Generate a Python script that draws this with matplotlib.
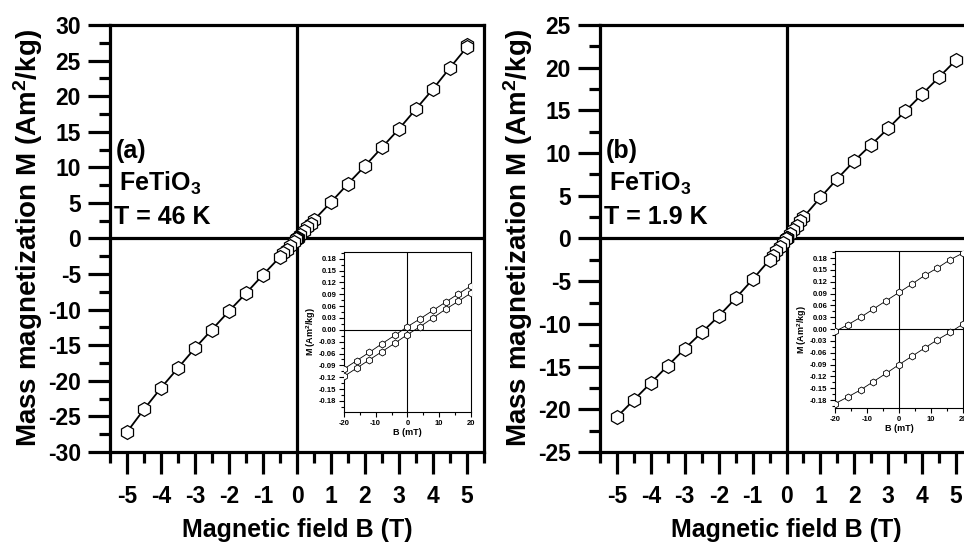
import numpy as np
import matplotlib
matplotlib.use('Agg')
import matplotlib.pyplot as plt
from matplotlib.ticker import MultipleLocator, FormatStrFormatter

# Magnetization loops of FeTiO3 at two temperatures
# field sweep in tesla, magnetization in Am^2/kg
Ba = [5, 5, 4.5, 4, 3.5, 3, 2.5, 2, 1.5, 1, 0.5, 0.4, 0.3, 0.2, 0.1, 0.02, 0.01, 0,
      -0.01, -0.02, -0.1, -0.2, -0.3, -0.4, -0.5, -1, -1.5, -2, -2.5, -3, -3.5, -4, -4.5, -5]
Ma = [27.2, 26.9, 24.0, 21.0, 18.2, 15.4, 12.8, 10.2, 7.7, 5.1, 2.6, 2.1, 1.6, 1.1, 0.55, 0.1, 0.05, 0.0,
      -0.05, -0.1, -0.55, -1.1, -1.6, -2.1, -2.6, -5.1, -7.7, -10.2, -12.8, -15.4, -18.2, -21.0, -24.0, -27.2]

Bb = [5, 4.5, 4, 3.5, 3, 2.5, 2, 1.5, 1, 0.5, 0.4, 0.3, 0.2, 0.1, 0.02, 0.01, 0,
      -0.01, -0.02, -0.1, -0.2, -0.3, -0.4, -0.5, -1, -1.5, -2, -2.5, -3, -3.5, -4, -4.5, -5]
Mb = [20.9, 18.9, 16.9, 14.9, 12.9, 11.0, 9.1, 7.0, 4.8, 2.5, 2.0, 1.5, 1.0, 0.5, 0.09, 0.05, 0.0,
      -0.05, -0.09, -0.5, -1.0, -1.5, -2.0, -2.5, -4.8, -7.0, -9.1, -11.0, -12.9, -14.9, -16.9, -18.9, -20.9]

# low field detail, field in mT
Bi = [-20, -16, -12, -8, -4, 0, 4, 8, 12, 16, 20]
Ia_up = [-0.099, -0.078, -0.057, -0.035, -0.014, 0.008, 0.028, 0.049, 0.070, 0.091, 0.111]
Ia_dn = [-0.118, -0.097, -0.076, -0.055, -0.034, -0.012, 0.008, 0.030, 0.052, 0.072, 0.093]
Ib_up = [-0.006, 0.011, 0.030, 0.051, 0.072, 0.093, 0.114, 0.136, 0.155, 0.176, 0.193]
Ib_dn = [-0.189, -0.172, -0.154, -0.133, -0.112, -0.090, -0.069, -0.048, -0.027, -0.008, 0.013]

plt.rcParams['font.family'] = 'Liberation Sans'
plt.rcParams['font.weight'] = 'bold'
plt.rcParams['axes.labelweight'] = 'bold'
plt.rcParams['axes.unicode_minus'] = False
plt.rcParams['mathtext.default'] = 'regular'

fig = plt.figure(figsize=(9.64, 5.43), dpi=100)


def main_panel(pos, B, M, ylim, tag, temp):
    ax = fig.add_axes(pos)
    ax.axhline(0, color='k', lw=2.3, zorder=1)
    ax.axvline(0, color='k', lw=2.3, zorder=1)
    ax.plot(B, M, '-h', color='k', lw=1.3, ms=10, mfc='white', mec='k', mew=0.9, zorder=3)
    ax.set_xlim(-5.5, 5.5)
    ax.set_ylim(-ylim, ylim)
    ax.xaxis.set_major_locator(MultipleLocator(1))
    ax.xaxis.set_minor_locator(MultipleLocator(0.5))
    ax.yaxis.set_major_locator(MultipleLocator(5))
    ax.yaxis.set_minor_locator(MultipleLocator(2.5))
    ax.tick_params(which='major', direction='out', length=16, width=2.3, labelsize=16.5, pad=5)
    ax.tick_params(axis='x', which='major', pad=8)
    ax.tick_params(which='minor', direction='out', length=8, width=2.3)
    for s in ax.spines.values():
        s.set_linewidth(2.3)
    ax.set_xlabel('Magnetic field B (T)', fontsize=18, labelpad=7)
    ax.set_ylabel('Mass magnetization M (Am$^2$/kg)', fontsize=20, labelpad=2)
    ax.text(0.015, 0.688, tag, transform=ax.transAxes, fontsize=18)
    ax.text(0.025, 0.612, 'FeTiO$_3$', transform=ax.transAxes, fontsize=18)
    ax.text(0.012, 0.534, temp, transform=ax.transAxes, fontsize=18)
    return ax


def inset(pos, up, dn, ylim):
    ax = fig.add_axes(pos)
    ax.axhline(0, color='k', lw=0.8, zorder=1)
    ax.axvline(0, color='k', lw=0.8, zorder=1)
    for M in (up, dn):
        ax.plot(Bi, M, '-h', color='k', lw=0.6, ms=5, mfc='white', mec='k', mew=0.6, zorder=3)
    ax.set_xlim(-20, 20)
    ax.set_ylim(*ylim)
    ax.xaxis.set_major_locator(MultipleLocator(10))
    ax.xaxis.set_minor_locator(MultipleLocator(5))
    ax.yaxis.set_major_locator(MultipleLocator(0.03))
    ax.yaxis.set_minor_locator(MultipleLocator(0.015))
    ax.yaxis.set_major_formatter(FormatStrFormatter('%.2f'))
    ax.tick_params(which='major', direction='out', length=3.5, width=0.8, labelsize=5.5, pad=2)
    ax.tick_params(which='minor', direction='out', length=2, width=0.8)
    for s in ax.spines.values():
        s.set_linewidth(0.8)
    ax.set_xlabel('B (mT)', fontsize=6.5, labelpad=1)
    ax.set_ylabel('M (Am$^2$/kg)', fontsize=6.5, labelpad=1)
    return ax


main_panel([0.1141, 0.1676, 0.388, 0.7864], Ba, Ma, 30, '(a)', 'T = 46 K')
main_panel([0.6224, 0.1676, 0.387, 0.7864], Bb, Mb, 25, '(b)', 'T = 1.9 K')

inset([0.3568, 0.2413, 0.1317, 0.2946], Ia_up, Ia_dn, (-0.208, 0.197))
inset([0.8662, 0.2486, 0.1328, 0.2892], Ib_up, Ib_dn, (-0.2, 0.198))

fig.savefig('out.png', dpi=100)
